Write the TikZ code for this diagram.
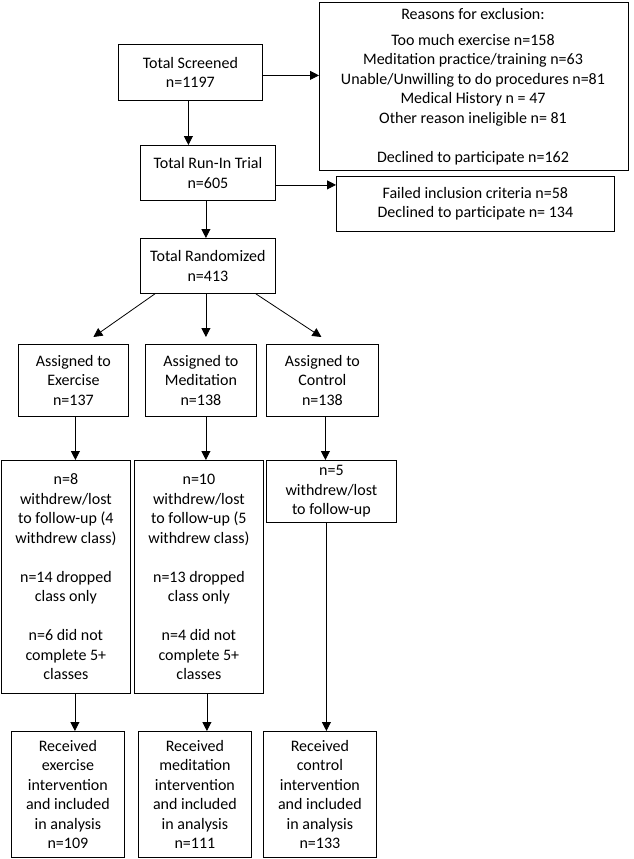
\documentclass[tikz,border=0pt]{standalone}
\usepackage{fontspec}
\setmainfont{Carlito}
\usetikzlibrary{arrows.meta}
\begin{document}
\begin{tikzpicture}[x=1pt,y=-1pt,
  box/.style={draw,thick,align=center,inner sep=0pt,font=\fontsize{16}{19.5}\selectfont},
  arr/.style={thick,-{Triangle[length=9pt,width=9pt]}}]
\useasboundingbox (0,0) rectangle (633,859);
\tikzset{bx/.style args={#1/#2/#3/#4}{box,minimum width=#3-#1,minimum height=#4-#2,anchor=north west,at={(#1,#2)}}}
\node[bx=118/44/262/100] (scr) {Total Screened\\n=1197};
\node[bx=319/2/628/170,draw=none] (exc) {};
\draw[thick] (exc.north west) rectangle (exc.south east);
\begin{scope}
\clip (319,2) rectangle (628,169);
\node[box,draw=none,anchor=north] at (473,8) {Reasons for exclusion:\\[6pt]Too much exercise n=158\\Meditation practice/training n=63\\Unable/Unwilling to do procedures n=81\\Medical History n = 47\\Other reason ineligible n= 81\\[19.5pt]Declined to participate n=162};
\end{scope}
\node[bx=140/145/275/200] (run) {Total Run-In Trial\\n=605};
\node[bx=336/176/614/231] (fail) {Failed inclusion criteria n=58\\Declined to participate n= 134};
\node[bx=140/238/275/293] (rand) {Total Randomized\\n=413};
\node[bx=18/344/128/416] (a1) {Assigned to\\Exercise\\n=137};
\node[bx=145/344/256/416] (a2) {Assigned to\\Meditation\\n=138};
\node[bx=266/344/378/416] (a3) {Assigned to\\Control\\n=138};
\node[bx=1/460/130/693] (m1) {n=8\\withdrew/lost\\to follow-up (4\\withdrew class)\\[19.5pt]n=14 dropped\\class only\\[19.5pt]n=6 did not\\complete 5+\\classes};
\node[bx=134/460/263/693] (m2) {n=10\\withdrew/lost\\to follow-up (5\\withdrew class)\\[19.5pt]n=13 dropped\\class only\\[19.5pt]n=4 did not\\complete 5+\\classes};
\node[bx=266/460/396/522] (m3) {n=5\\withdrew/lost\\to follow-up};
\node[bx=11/731/124/857] (b1) {Received\\exercise\\intervention\\and included\\in analysis\\n=109};
\node[bx=138/731/251/857] (b2) {Received\\meditation\\intervention\\and included\\in analysis\\n=111};
\node[bx=263/731/376/857] (b3) {Received\\control\\intervention\\and included\\in analysis\\n=133};
\draw[arr] ([xshift=-2pt]scr.south) -- ([xshift=-2pt]scr.south |- run.north);
\draw[arr] ([yshift=-3pt]scr.east) -- ([yshift=-3pt]scr.east -| exc.west);
\draw[arr] ([yshift=-12pt]run.east) -- ([yshift=-12pt]run.east -| fail.west);
\draw[arr] ([xshift=-2pt]run.south) -- ([xshift=-2pt]run.south |- rand.north);
\draw[arr] ([xshift=15pt]rand.south west) -- ([xshift=20pt,yshift=7pt]a1.north);
\draw[arr] ([xshift=-2pt]rand.south) -- ([xshift=-2pt,yshift=7pt]rand.south |- a2.north);
\draw[arr] ([xshift=-20pt]rand.south east) -- ([xshift=-1pt,yshift=7pt]a3.north);
\draw[arr] ([xshift=2pt]a1.south) -- ([xshift=2pt]a1.south |- m1.north);
\draw[arr] ([xshift=5pt]a2.south) -- ([xshift=5pt]a2.south |- m2.north);
\draw[arr] ([xshift=3pt]a3.south) -- ([xshift=3pt]a3.south |- m3.north);
\draw[arr] ([xshift=9pt]m1.south) -- ([xshift=9pt]m1.south |- b1.north);
\draw[arr] ([xshift=8pt]m2.south) -- ([xshift=8pt]m2.south |- b2.north);
\draw[arr] ([xshift=-5pt]m3.south) -- ([xshift=-5pt]m3.south |- b3.north);
\end{tikzpicture}
\end{document}
